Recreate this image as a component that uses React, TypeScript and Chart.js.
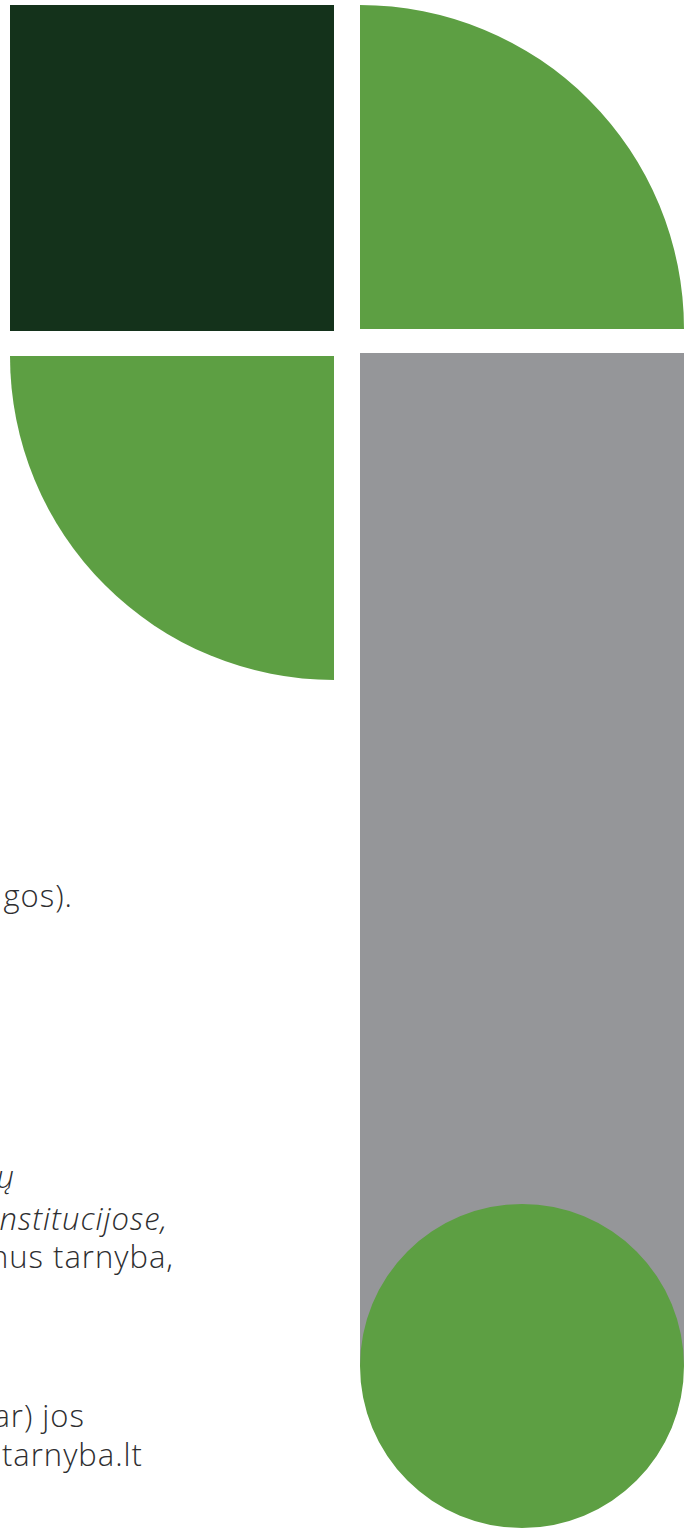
import React, { useEffect, useRef } from "react";
import { Chart, registerables } from "chart.js";

Chart.register(...registerables);

// ---- data ----
const squareLabels = ["kvadratas"];
const squareValues = [1];
const stripeLabels = ["juosta"];
const stripeValues = [1];
const quarterLabels = ["ketvirtis"];
const quarterValues = [1];
const circleLabels = ["apskritimas"];
const circleValues = [1];
const textLines = ["gos).", "ų", "nstitucijose,", "nus tarnyba,", "ar) jos", "tarnyba.lt"];

// ---- styles ----
const DARK = "#14321b";
const GREEN = "#5d9f43";
const GRAY = "#959699";
const TEXT = "#2e2e30";

type Box = { left: number; top: number; width: number; height: number };

function BarBlock({ box, labels, values, color }: { box: Box; labels: string[]; values: number[]; color: string }) {
  const ref = useRef<HTMLCanvasElement | null>(null);
  useEffect(() => {
    if (!ref.current) return;
    const chart = new Chart(ref.current, {
      type: "bar",
      data: {
        labels,
        datasets: [
          {
            data: values,
            backgroundColor: color,
            borderWidth: 0,
            barPercentage: 1,
            categoryPercentage: 1,
          },
        ],
      },
      options: {
        animation: false,
        responsive: true,
        maintainAspectRatio: false,
        events: [],
        layout: { padding: 0 },
        plugins: { legend: { display: false }, tooltip: { enabled: false } },
        scales: {
          x: { display: false },
          y: { display: false, min: 0, max: 1 },
        },
      },
    });
    return () => chart.destroy();
  }, []);
  return (
    <div style={{ position: "absolute", ...box }}>
      <canvas ref={ref} />
    </div>
  );
}

function PieBlock({
  box,
  labels,
  values,
  color,
  rotation,
  circumference,
}: {
  box: Box;
  labels: string[];
  values: number[];
  color: string;
  rotation: number;
  circumference: number;
}) {
  const ref = useRef<HTMLCanvasElement | null>(null);
  useEffect(() => {
    if (!ref.current) return;
    const chart = new Chart(ref.current, {
      type: "pie",
      data: {
        labels,
        datasets: [{ data: values, backgroundColor: color, borderWidth: 0, hoverOffset: 0 }],
      },
      options: {
        animation: false,
        responsive: true,
        maintainAspectRatio: false,
        events: [],
        rotation,
        circumference,
        layout: { padding: 0 },
        plugins: { legend: { display: false }, tooltip: { enabled: false } },
      },
    });
    return () => chart.destroy();
  }, []);
  return (
    <div style={{ position: "absolute", ...box }}>
      <canvas ref={ref} />
    </div>
  );
}

const lineLayout = [
  { right: 73, base: 908, italic: false },
  { right: 15, base: 1189, italic: true },
  { right: 168, base: 1231, italic: true },
  { right: 174, base: 1269, italic: false },
  { right: 85, base: 1428, italic: false },
  { right: 143, base: 1467, italic: false },
];

const FONT_SIZE = 31;
const ASC = 0.888; // baseline offset within a 1em line box for Open Sans

export default function App() {
  return (
    <div
      style={{
        position: "absolute",
        left: 0,
        top: 0,
        width: 697,
        height: 1531,
        overflow: "hidden",
        background: "#ffffff",
      }}
    >
      <BarBlock box={{ left: 10, top: 5, width: 324, height: 326 }} labels={squareLabels} values={squareValues} color={DARK} />
      <PieBlock
        box={{ left: 360, top: 5, width: 324, height: 324 }}
        labels={quarterLabels}
        values={quarterValues}
        color={GREEN}
        rotation={0}
        circumference={90}
      />
      <PieBlock
        box={{ left: 10, top: 356, width: 324, height: 324 }}
        labels={quarterLabels}
        values={quarterValues}
        color={GREEN}
        rotation={180}
        circumference={90}
      />
      <BarBlock box={{ left: 360, top: 353, width: 324, height: 1013 }} labels={stripeLabels} values={stripeValues} color={GRAY} />
      <PieBlock
        box={{ left: 360, top: 1204, width: 324, height: 324 }}
        labels={circleLabels}
        values={circleValues}
        color={GREEN}
        rotation={0}
        circumference={360}
      />
      {textLines.map((t, i) => {
        const l = lineLayout[i];
        return (
          <div
            key={i}
            style={{
              position: "absolute",
              right: 697 - l.right,
              top: l.base - FONT_SIZE * ASC,
              height: FONT_SIZE * 1.3,
              lineHeight: `${FONT_SIZE}px`,
              whiteSpace: "nowrap",
              fontFamily: "'Open Sans', Lato, sans-serif",
              fontWeight: 300,
              fontSize: FONT_SIZE,
              letterSpacing: "1px",
              fontStyle: l.italic ? "italic" : "normal",
              color: TEXT,
              textAlign: "right",
            }}
          >
            {t}
          </div>
        );
      })}
    </div>
  );
}
